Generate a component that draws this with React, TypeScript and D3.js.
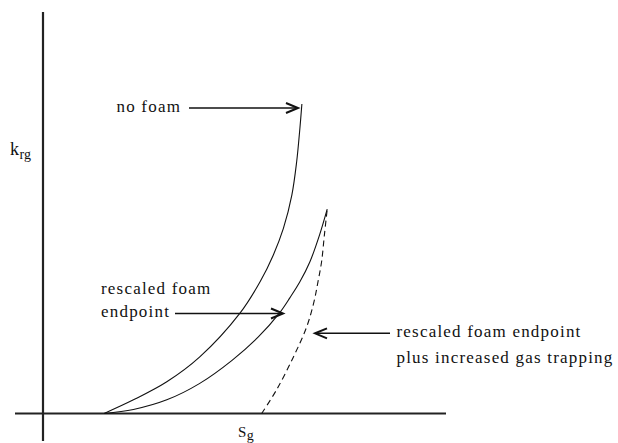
import React from "react";
import * as d3 from "d3";

// Normalised gas saturation (Sg) and gas relative permeability (krg)
const noFoamSg = [0.152, 0.225, 0.308, 0.39, 0.49, 0.54, 0.573, 0.598, 0.619, 0.631, 0.639, 0.644];
const noFoamKrg = [0, 0.034, 0.079, 0.141, 0.25, 0.328, 0.395, 0.461, 0.544, 0.627, 0.71, 0.771];

const rescaledSg = [0.152, 0.225, 0.308, 0.39, 0.471, 0.535, 0.588, 0.614, 0.639, 0.664, 0.688, 0.707];
const rescaledKrg = [0, 0.01, 0.034, 0.075, 0.133, 0.19, 0.25, 0.288, 0.328, 0.378, 0.445, 0.509];

const trappingSg = [0.544, 0.581, 0.623, 0.656, 0.674, 0.684, 0.693, 0.7, 0.707];
const trappingKrg = [0, 0.059, 0.141, 0.216, 0.278, 0.328, 0.378, 0.445, 0.509];

const W = 618;
const H = 443;

const x = d3.scaleLinear().domain([0, 1]).range([43, 445]);
const y = d3.scaleLinear().domain([0, 1]).range([413.5, 12]);

const line = d3
  .line<[number, number]>()
  .x((d) => x(d[0]))
  .y((d) => y(d[1]))
  .curve(d3.curveCatmullRom.alpha(0.5));

const zip = (a: number[], b: number[]) => a.map((v, i) => [v, b[i]] as [number, number]);

const FONT = "Liberation Serif, DejaVu Serif, serif";
const INK = "#111";

function Arrow({ x1, x2, yy }: { x1: number; x2: number; yy: number }) {
  const dir = x2 > x1 ? 1 : -1;
  const hl = 12;
  const hw = 5;
  return (
    <g stroke={INK} fill="none" strokeWidth={1.5}>
      <line x1={x1} y1={yy} x2={x2 - dir * 1} y2={yy} />
      <path
        d={`M${x2 - dir * hl},${yy - hw} L${x2},${yy} L${x2 - dir * hl},${yy + hw}`}
        strokeWidth={2}
        strokeLinejoin="miter"
      />
    </g>
  );
}

function Label({ x: tx, y: ty, children }: { x: number; y: number; children: React.ReactNode }) {
  return (
    <text x={tx} y={ty} fontFamily={FONT} fontSize={17} letterSpacing={1.2} fill={INK}>
      {children}
    </text>
  );
}

export default function App() {
  return (
    <svg
      width={W}
      height={H}
      style={{ position: "absolute", left: 0, top: 0, background: "#fff" }}
    >
      {/* axes */}
      <line x1={x(0)} y1={12} x2={x(0)} y2={441} stroke="#222" strokeWidth={2.2} />
      <line x1={15} y1={y(0)} x2={446} y2={y(0)} stroke="#222" strokeWidth={2.2} />

      {/* curves */}
      <path d={line(zip(noFoamSg, noFoamKrg)) || ""} fill="none" stroke={INK} strokeWidth={1.1} />
      <path d={line(zip(rescaledSg, rescaledKrg)) || ""} fill="none" stroke={INK} strokeWidth={1.1} />
      <path
        d={line(zip(trappingSg, trappingKrg)) || ""}
        fill="none"
        stroke={INK}
        strokeWidth={1.1}
        strokeDasharray="6,4"
      />

      {/* axis labels */}
      <text x={10} y={155} fontFamily={FONT} fontSize={18} fill={INK}>
        k
        <tspan dx={0.5} dy={4} fontSize={14}>
          rg
        </tspan>
      </text>
      <text x={238} y={436.5} fontFamily={FONT} fontSize={15} fill={INK}>
        S
        <tspan dx={0.5} dy={3.5} fontSize={14}>
          g
        </tspan>
      </text>

      {/* annotations */}
      <Label x={116.5} y={111.7}>no foam</Label>
      <Arrow x1={189} x2={298} yy={108} />

      <Label x={101} y={294}>rescaled foam</Label>
      <Label x={101} y={316.5}>endpoint</Label>
      <Arrow x1={175} x2={283} yy={313.5} />

      <Label x={396.5} y={337.3}>rescaled foam endpoint</Label>
      <Label x={396.5} y={362.7}>plus increased gas trapping</Label>
      <Arrow x1={390} x2={315} yy={333.3} />
    </svg>
  );
}
